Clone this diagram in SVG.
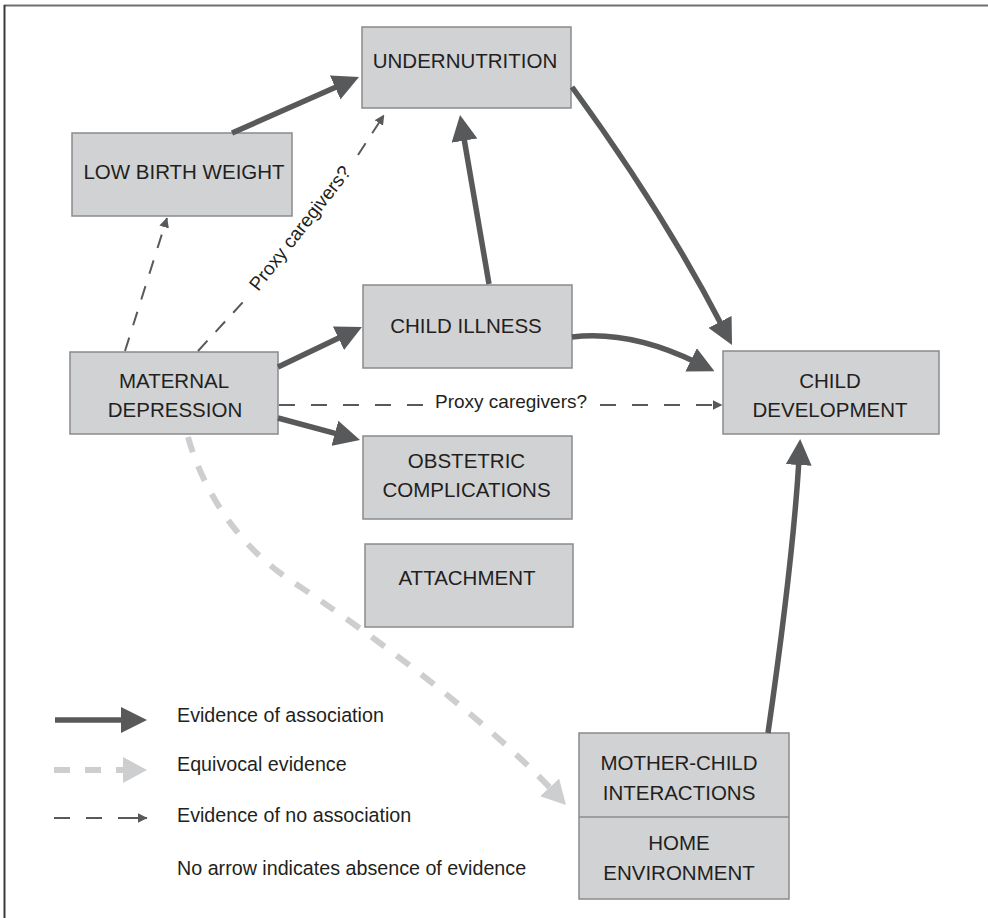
<svg xmlns="http://www.w3.org/2000/svg" width="988" height="918" viewBox="0 0 988 918">
  <style>
    .box { fill: #d1d2d4; stroke: #8a8b8d; stroke-width: 1.5; }
    .lbl { font-family: "Liberation Sans", Arial, sans-serif; font-size: 20.5px; fill: #231f20; text-anchor: middle; }
    .leg { font-family: "Liberation Sans", Arial, sans-serif; font-size: 19.7px; fill: #231f20; }
    .note { font-family: "Liberation Sans", Arial, sans-serif; font-size: 19px; fill: #231f20; }
    .strong { fill: none; stroke: #58595b; stroke-width: 5.5; marker-end: url(#headStrong); }
    .weak { fill: none; stroke: #58595b; stroke-width: 2; stroke-dasharray: 16 16; marker-end: url(#headSmall); }
    .equiv { fill: none; stroke: #cdcecf; stroke-width: 6; stroke-dasharray: 16 15; marker-end: url(#headLight); }
  </style>
  <defs>
    <marker id="headStrong" markerUnits="userSpaceOnUse" viewBox="0 0 26 26" markerWidth="26" markerHeight="26" refX="6" refY="13" orient="auto">
      <path d="M0,0 L26,13 L0,26 Z" fill="#58595b"/>
    </marker>
    <marker id="headLight" markerUnits="userSpaceOnUse" viewBox="0 0 24 26" markerWidth="24" markerHeight="26" refX="6" refY="13" orient="auto">
      <path d="M0,0 L24,13 L0,26 Z" fill="#cdcecf"/>
    </marker>
    <marker id="headSmall" markerUnits="userSpaceOnUse" viewBox="0 0 10 10" markerWidth="10" markerHeight="10" refX="9.5" refY="5" orient="auto">
      <path d="M0,0 L10,5 L0,10 Z" fill="#58595b"/>
    </marker>
  </defs>

  <!-- frame -->
  <line x1="4" y1="5.5" x2="988" y2="5.5" stroke="#6d6e70" stroke-width="2"/>
  <line x1="4.5" y1="5" x2="4.5" y2="918" stroke="#3a3a3c" stroke-width="2"/>

  <!-- nodes -->
  <g id="undernutrition">
    <rect class="box" x="362" y="27" width="209" height="81"/>
    <text class="lbl" x="465" y="68">UNDERNUTRITION</text>
  </g>
  <g id="low-birth-weight">
    <rect class="box" x="72" y="133" width="220" height="83"/>
    <text class="lbl" x="184" y="179">LOW BIRTH WEIGHT</text>
  </g>
  <g id="child-illness">
    <rect class="box" x="363" y="285" width="209" height="83"/>
    <text class="lbl" x="466" y="333">CHILD ILLNESS</text>
  </g>
  <g id="maternal-depression">
    <rect class="box" x="70" y="352" width="208" height="82"/>
    <text class="lbl" x="174" y="388">MATERNAL</text>
    <text class="lbl" x="175" y="417">DEPRESSION</text>
  </g>
  <g id="child-development">
    <rect class="box" x="723" y="351" width="216" height="83"/>
    <text class="lbl" x="830" y="388">CHILD</text>
    <text class="lbl" x="830" y="417">DEVELOPMENT</text>
  </g>
  <g id="obstetric-complications">
    <rect class="box" x="363" y="436" width="209" height="83"/>
    <text class="lbl" x="466.5" y="468">OBSTETRIC</text>
    <text class="lbl" x="466.5" y="497">COMPLICATIONS</text>
  </g>
  <g id="attachment">
    <rect class="box" x="365" y="544" width="208" height="83"/>
    <text class="lbl" x="467" y="585">ATTACHMENT</text>
  </g>
  <g id="mother-child-home">
    <rect class="box" x="579" y="733" width="210" height="166"/>
    <line x1="579" y1="817" x2="789" y2="817" stroke="#8a8b8d" stroke-width="1.5"/>
    <text class="lbl" x="679" y="770">MOTHER-CHILD</text>
    <text class="lbl" x="679" y="800">INTERACTIONS</text>
    <text class="lbl" x="679" y="850">HOME</text>
    <text class="lbl" x="679" y="880">ENVIRONMENT</text>
  </g>

  <!-- connectors -->
  <g id="connectors">
    <!-- evidence of association -->
    <path class="strong" d="M232,133 L340.7,85.1"/>
    <path class="strong" d="M489,284 L463.4,134.7"/>
    <path class="strong" d="M572,87 Q662,210 722.8,327.2"/>
    <path class="strong" d="M572,337 Q630,330 696.5,362.5"/>
    <path class="strong" d="M278,367 L343.9,335.6"/>
    <path class="strong" d="M278,418 L340.7,434.8"/>
    <path class="strong" d="M768,733 Q793,560 799,459"/>

    <!-- evidence of no association -->
    <path class="weak" style="stroke-dasharray:14 13" d="M125,351 L167,218"/>
    <path class="weak" style="stroke-dasharray:14 12;marker-end:none" d="M198,351 L243,302"/>
    <path class="weak" style="stroke-dasharray:14 12" d="M358,155 L384,115"/>
    <text class="note" text-anchor="middle" dominant-baseline="central" transform="translate(300,228) rotate(-52)">Proxy caregivers?</text>
    <path class="weak" style="marker-end:none" d="M279,405 L423,405"/>
    <path class="weak" d="M600,405 L722,405"/>
    <text class="note" x="435" y="408">Proxy caregivers?</text>

    <!-- equivocal evidence -->
    <path class="equiv" d="M188,437 C200,480 230,540 290,580 C370,633 485.5,718.7 553.7,791.8"/>
  </g>

  <!-- legend -->
  <g id="legend">
    <path class="strong" d="M55,720 L127,720"/>
    <text class="leg" x="177" y="722">Evidence of association</text>
    <path class="equiv" d="M54,770 L129,770"/>
    <text class="leg" x="177" y="771">Equivocal evidence</text>
    <path class="weak" style="stroke-dasharray:16 16 16 16 30" d="M54,818 L147,818"/>
    <text class="leg" x="177" y="822">Evidence of no association</text>
    <text class="leg" x="177" y="875">No arrow indicates absence of evidence</text>
  </g>
</svg>
